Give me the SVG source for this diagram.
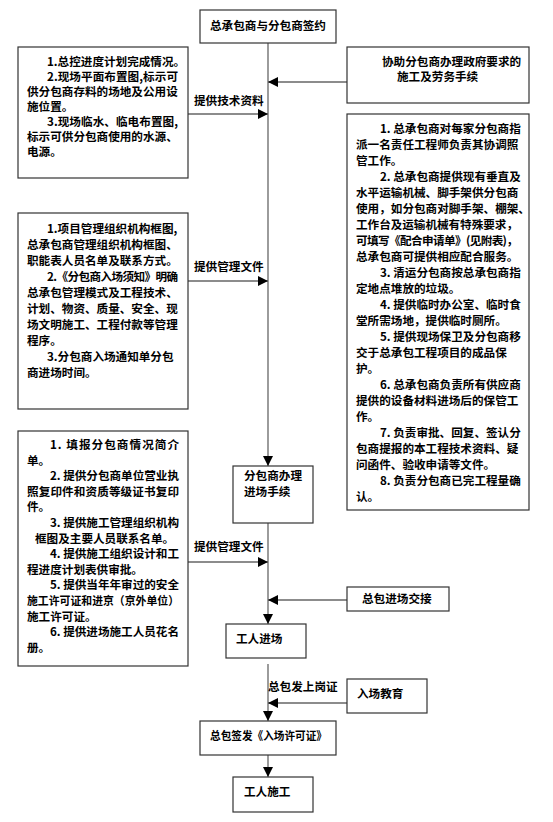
<svg xmlns="http://www.w3.org/2000/svg" width="553" height="822" viewBox="0 0 553 822">
<style>
.bx{fill:#fff;stroke:#333;stroke-width:1.2}
.t{font-family:"Noto Sans CJK SC","Liberation Sans",sans-serif;font-size:11.6px;font-weight:bold;fill:#000}
.c{fill:none;stroke:#666;stroke-width:1.3}
</style>
<defs>
<marker id="ah" markerUnits="userSpaceOnUse" markerWidth="10" markerHeight="10" refX="10" refY="5" orient="auto">
<path d="M0,0 L10,5 L0,10 z" fill="#000"/>
</marker>
</defs>
<rect width="553" height="822" fill="#fff"/>
<g id="connectors">
<line class="c" x1="268" y1="43" x2="268" y2="466" marker-end="url(#ah)"/>
<line class="c" x1="347" y1="82" x2="268" y2="82" marker-end="url(#ah)"/>
<line class="c" x1="188" y1="114" x2="268" y2="114" marker-end="url(#ah)"/>
<line class="c" x1="188" y1="281" x2="268" y2="281" marker-end="url(#ah)"/>
<line class="c" x1="268" y1="523" x2="268" y2="624" marker-end="url(#ah)"/>
<line class="c" x1="188" y1="562" x2="268" y2="562" marker-end="url(#ah)"/>
<line class="c" x1="347" y1="600" x2="268" y2="600" marker-end="url(#ah)"/>
<line class="c" x1="268" y1="664" x2="268" y2="721" marker-end="url(#ah)"/>
<line class="c" x1="347" y1="703" x2="268" y2="703" marker-end="url(#ah)"/>
<line class="c" x1="268" y1="755" x2="268" y2="777" marker-end="url(#ah)"/>
<text class="t" x="194" y="105">提供技术资料</text>
<text class="t" x="194" y="271">提供管理文件</text>
<text class="t" x="194" y="551">提供管理文件</text>
<text class="t" x="268" y="691">总包发上岗证</text>
</g>
<g id="n_sign">
<rect class="bx" x="200" y="10" width="136" height="33"/>
<text class="t" x="268" y="29.5" text-anchor="middle">总承包商与分包商签约</text>
</g>
<g id="n_tech">
<rect class="bx" x="18" y="47" width="170" height="131"/>
<text class="t" x="47" y="66">1.总控进度计划完成情况。</text>
<text class="t" x="47" y="81" textLength="131">2.现场平面布置图,标示可</text>
<text class="t" x="27" y="96">供分包商存料的场地及公用设</text>
<text class="t" x="27" y="111">施位置。</text>
<text class="t" x="47" y="126" textLength="131">3.现场临水、临电布置图,</text>
<text class="t" x="27" y="141">标示可供分包商使用的水源、</text>
<text class="t" x="27" y="156">电源。</text>
</g>
<g id="n_gov">
<rect class="bx" x="347" y="47" width="182" height="56"/>
<text class="t" x="382" y="66">协助分包商办理政府要求的</text>
<text class="t" x="397" y="81">施工及劳务手续</text>
</g>
<g id="n_duty">
<rect class="bx" x="347" y="114" width="182" height="396"/>
<text class="t" x="380" y="133">1. 总承包商对每家分包商指</text>
<text class="t" x="356" y="149">派一名责任工程师负责其协调照</text>
<text class="t" x="356" y="165">管工作。</text>
<text class="t" x="380" y="181">2. 总承包商提供现有垂直及</text>
<text class="t" x="356" y="197">水平运输机械、脚手架供分包商</text>
<text class="t" x="356" y="213">使用，如分包商对脚手架、棚架、</text>
<text class="t" x="356" y="229" textLength="162">工作台及运输机械有特殊要求，</text>
<text class="t" x="356" y="245" textLength="162">可填写《配合申请单》(见附表)，</text>
<text class="t" x="356" y="261">总承包商可提供相应配合服务。</text>
<text class="t" x="380" y="277">3. 清运分包商按总承包商指</text>
<text class="t" x="356" y="293">定地点堆放的垃圾。</text>
<text class="t" x="380" y="309">4. 提供临时办公室、临时食</text>
<text class="t" x="356" y="325">堂所需场地，提供临时厕所。</text>
<text class="t" x="380" y="341">5. 提供现场保卫及分包商移</text>
<text class="t" x="356" y="357">交于总承包工程项目的成品保</text>
<text class="t" x="356" y="373">护。</text>
<text class="t" x="380" y="389">6. 总承包商负责所有供应商</text>
<text class="t" x="356" y="405">提供的设备材料进场后的保管工</text>
<text class="t" x="356" y="421">作。</text>
<text class="t" x="380" y="437">7. 负责审批、回复、签认分</text>
<text class="t" x="356" y="453">包商提报的本工程技术资料、疑</text>
<text class="t" x="356" y="469">问函件、验收申请等文件。</text>
<text class="t" x="380" y="485">8. 负责分包商已完工程量确</text>
<text class="t" x="356" y="501">认。</text>
</g>
<g id="n_mgmt">
<rect class="bx" x="18" y="213" width="170" height="196"/>
<text class="t" x="47" y="233">1.项目管理组织机构框图,</text>
<text class="t" x="27" y="249">总承包商管理组织机构框图、</text>
<text class="t" x="27" y="265">职能表人员名单及联系方式。</text>
<text class="t" x="47" y="281" textLength="131">2.《分包商入场须知》明确</text>
<text class="t" x="27" y="297">总承包管理模式及工程技术、</text>
<text class="t" x="27" y="313">计划、物资、质量、安全、现</text>
<text class="t" x="27" y="329">场文明施工、工程付款等管理</text>
<text class="t" x="27" y="345">程序。</text>
<text class="t" x="47" y="361">3.分包商入场通知单分包</text>
<text class="t" x="27" y="377">商进场时间。</text>
</g>
<g id="n_entry">
<rect class="bx" x="233" y="466" width="80" height="57"/>
<text class="t" x="244" y="480">分包商办理</text>
<text class="t" x="244" y="496">进场手续</text>
</g>
<g id="n_docs">
<rect class="bx" x="18" y="431" width="170" height="235"/>
<text class="t" x="50" y="449" textLength="129">1. 填报分包商情况简介</text>
<text class="t" x="27" y="465">单。</text>
<text class="t" x="50" y="480" textLength="129">2. 提供分包商单位营业执</text>
<text class="t" x="27" y="496" textLength="152">照复印件和资质等级证书复印</text>
<text class="t" x="27" y="511">件。</text>
<text class="t" x="50" y="527" textLength="129">3. 提供施工管理组织机构</text>
<text class="t" x="35" y="543">框图及主要人员联系名单。</text>
<text class="t" x="50" y="558" textLength="129">4. 提供施工组织设计和工</text>
<text class="t" x="27" y="574">程进度计划表供审批。</text>
<text class="t" x="50" y="589" textLength="129">5. 提供当年年审过的安全</text>
<text class="t" x="27" y="605" textLength="152" lengthAdjust="spacingAndGlyphs">施工许可证和进京（京外单位）</text>
<text class="t" x="27" y="621">施工许可证。</text>
<text class="t" x="50" y="636" textLength="129">6. 提供进场施工人员花名</text>
<text class="t" x="27" y="652">册。</text>
</g>
<g id="n_handover">
<rect class="bx" x="347" y="587" width="102" height="24"/>
<text class="t" x="362" y="603">总包进场交接</text>
</g>
<g id="n_workers">
<rect class="bx" x="226" y="624" width="80" height="34"/>
<text class="t" x="236" y="643">工人进场</text>
</g>
<g id="n_edu">
<rect class="bx" x="347" y="679" width="80" height="34"/>
<text class="t" x="357" y="698">入场教育</text>
</g>
<g id="n_permit">
<rect class="bx" x="200" y="721" width="136" height="34"/>
<text class="t" x="210" y="740" textLength="117" lengthAdjust="spacingAndGlyphs">总包签发《入场许可证》</text>
</g>
<g id="n_work">
<rect class="bx" x="233" y="777" width="80" height="35"/>
<text class="t" x="244" y="796">工人施工</text>
</g>
</svg>
